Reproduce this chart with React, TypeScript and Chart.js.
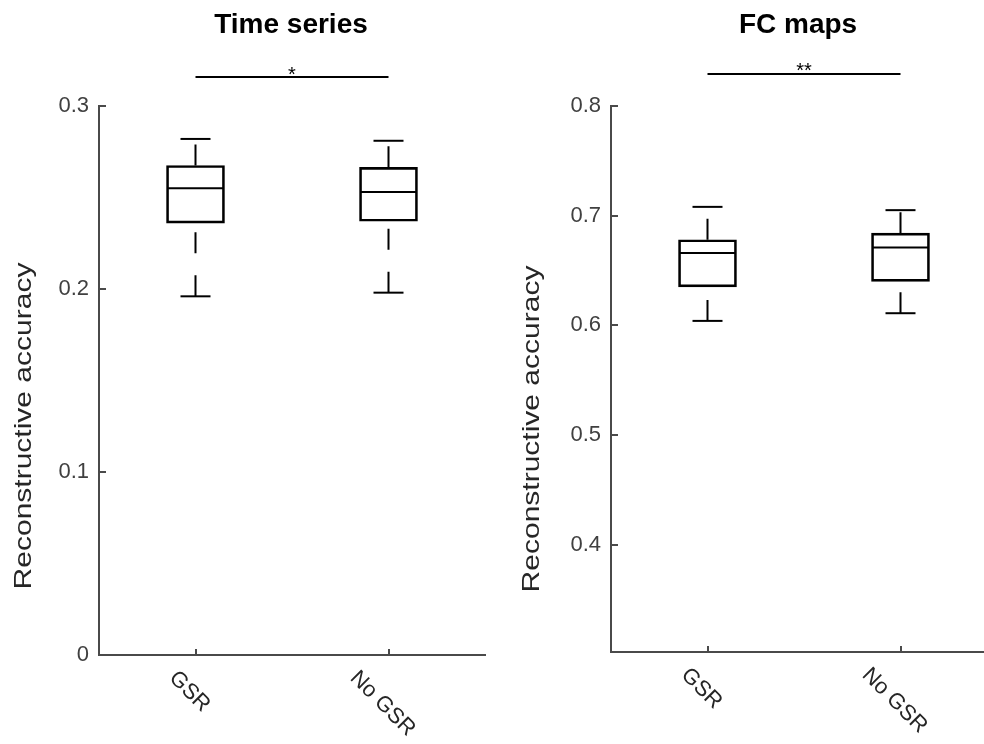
import React, { useEffect, useRef } from 'react';
import { Chart, registerables } from 'chart.js';

Chart.register(...registerables);

// ---------- data ----------
const categories = ['GSR', 'No GSR'];

// Panel 1: Time series
const tsLower = [0.196, 0.198];
const tsQ1 = [0.236, 0.237];
const tsMedian = [0.255, 0.253];
const tsQ3 = [0.2675, 0.2665];
const tsUpper = [0.282, 0.281];
const tsYTicks = [0, 0.1, 0.2, 0.3];
const tsYRange = [0, 0.3];
const tsSig = '*';

// Panel 2: FC maps
const fcLower = [0.604, 0.611];
const fcQ1 = [0.635, 0.64];
const fcMedian = [0.666, 0.671];
const fcQ3 = [0.678, 0.684];
const fcUpper = [0.708, 0.705];
const fcYTicks = [0.4, 0.5, 0.6, 0.7, 0.8];
const fcYRange = [0.302, 0.8];
const fcSig = '**';

const yAxisLabel = 'Reconstructive accuracy';

// ---------- styles ----------
const FONT = '"Liberation Sans", Arial, Helvetica, sans-serif';
const AXIS = '#4a4a4a';
const TICK_TEXT = '#404040';
const LABEL_TEXT = '#262626';

type PanelSpec = {
  title: string;
  sig: string;
  lower: number[];
  q1: number[];
  median: number[];
  q3: number[];
  upper: number[];
  yTicks: number[];
  yRange: number[];
  width: number;
  yWidth: number;
  xHeight: number;
  padRight: number;
  titleX: number;
  sigOffset: number;
  starLift: number;
  yLabelX: number;
  yLabelY: number;
};

const decorPlugin = {
  id: 'panelDecor',
  afterDraw(chart: any, _args: any, opts: any) {
    const { ctx, chartArea, scales } = chart;
    const xs = scales.x;
    const ys = scales.y;
    ctx.save();
    // inward tick marks
    ctx.strokeStyle = AXIS;
    ctx.lineWidth = 2;
    ctx.lineCap = 'butt';
    ys.ticks.forEach((t: any) => {
      const y = Math.round(ys.getPixelForValue(t.value));
      ctx.beginPath();
      ctx.moveTo(chartArea.left, y);
      ctx.lineTo(chartArea.left + 7, y);
      ctx.stroke();
    });
    categories.forEach((_c, i) => {
      const x = Math.round(xs.getPixelForValue(i));
      ctx.beginPath();
      ctx.moveTo(x, chartArea.bottom);
      ctx.lineTo(x, chartArea.bottom - 6);
      ctx.stroke();
    });

    // rotated category labels
    ctx.fillStyle = LABEL_TEXT;
    ctx.font = `22px ${FONT}`;
    categories.forEach((c, i) => {
      const x = xs.getPixelForValue(i);
      const w = ctx.measureText(c).width;
      const extent = (w + 22 * 0.75) * Math.SQRT1_2;
      ctx.save();
      ctx.translate(x - 6, chartArea.bottom + 14 + extent / 2);
      ctx.rotate(Math.PI / 4);
      ctx.textAlign = 'center';
      ctx.textBaseline = 'middle';
      ctx.fillText(c, 0, 0);
      ctx.restore();
    });

    // y axis label
    ctx.save();
    ctx.font = `24px ${FONT}`;
    ctx.fillStyle = LABEL_TEXT;
    ctx.translate(opts.yLabelX, opts.yLabelY);
    ctx.rotate(-Math.PI / 2);
    ctx.scale(1.25, 1);
    ctx.textAlign = 'center';
    ctx.textBaseline = 'middle';
    ctx.fillText(opts.yLabel, 0, 0);
    ctx.restore();

    // title
    ctx.fillStyle = '#000';
    ctx.font = `bold 28px ${FONT}`;
    ctx.textAlign = 'center';
    ctx.textBaseline = 'alphabetic';
    ctx.fillText(opts.title, opts.titleX, 33);

    // significance bar
    const x0 = xs.getPixelForValue(0);
    const x1 = xs.getPixelForValue(1);
    const sy = Math.round(chartArea.top - opts.sigOffset);
    ctx.strokeStyle = '#000';
    ctx.lineWidth = 2;
    ctx.beginPath();
    ctx.moveTo(x0, sy);
    ctx.lineTo(x1, sy);
    ctx.stroke();
    ctx.font = `20px ${FONT}`;
    ctx.fillText(opts.sig, (x0 + x1) / 2, sy - opts.starLift + 0.57 * 20);
    ctx.restore();
  },
};

function buildConfig(p: PanelSpec): any {
  const whiskers: any[] = [];
  const caps: any[] = [];
  const medians: any[] = [];
  categories.forEach((c, i) => {
    whiskers.push(
      { x: c, y: p.lower[i] },
      { x: c, y: p.q1[i] },
      { x: c, y: null },
      { x: c, y: p.q3[i] },
      { x: c, y: p.upper[i] },
      { x: c, y: null }
    );
    caps.push({ x: c, y: p.upper[i] }, { x: c, y: p.lower[i] });
    medians.push({ x: c, y: p.median[i] });
  });

  return {
    type: 'bar',
    data: {
      labels: categories,
      datasets: [
        {
          type: 'line',
          data: medians,
          showLine: false,
          pointStyle: 'line',
          pointRadius: 28,
          pointBorderWidth: 2,
          pointBorderColor: '#000',
          pointBackgroundColor: '#000',
        },
        {
          type: 'line',
          data: caps,
          showLine: false,
          pointStyle: 'line',
          pointRadius: 15,
          pointBorderWidth: 2,
          pointBorderColor: '#000',
          pointBackgroundColor: '#000',
        },
        {
          type: 'line',
          data: whiskers,
          borderColor: '#000',
          borderWidth: 2,
          borderDash: [21, 22],
          borderCapStyle: 'butt',
          pointRadius: 0,
          spanGaps: false,
          fill: false,
          tension: 0,
        },
        {
          type: 'bar',
          data: categories.map((_c, i) => [p.q1[i], p.q3[i]]),
          backgroundColor: 'rgba(0,0,0,0)',
          borderColor: '#000',
          borderWidth: 2,
          borderSkipped: false,
          barThickness: 58,
        },
      ],
    },
    options: {
      responsive: false,
      animation: false,
      events: [],
      layout: { autoPadding: false, padding: { top: 106, right: p.padRight, left: 0, bottom: 0 } },
      plugins: {
        legend: { display: false },
        tooltip: { enabled: false },
        panelDecor: {
          title: p.title,
          sig: p.sig,
          titleX: p.titleX,
          sigOffset: p.sigOffset,
          starLift: p.starLift,
          yLabel: yAxisLabel,
          yLabelX: p.yLabelX,
          yLabelY: p.yLabelY,
        },
      },
      scales: {
        x: {
          type: 'category',
          offset: true,
          grid: { display: false, drawTicks: false },
          border: { display: true, color: AXIS, width: 2 },
          ticks: { display: false },
          afterFit: (s: any) => {
            s.height = p.xHeight;
          },
        },
        y: {
          type: 'linear',
          min: p.yRange[0],
          max: p.yRange[1],
          grid: { display: false, drawTicks: false },
          border: { display: true, color: AXIS, width: 2 },
          ticks: {
            color: TICK_TEXT,
            font: { size: 22, family: FONT },
            padding: 10,
            callback: (v: number) => (v === 0 ? '0' : Number(v).toFixed(1)),
          },
          afterBuildTicks: (s: any) => {
            s.ticks = p.yTicks.map((v) => ({ value: v }));
          },
          afterFit: (s: any) => {
            s.width = p.yWidth;
          },
        },
      },
    },
    plugins: [decorPlugin],
  };
}

const leftPanel: PanelSpec = {
  title: 'Time series',
  sig: tsSig,
  lower: tsLower,
  q1: tsQ1,
  median: tsMedian,
  q3: tsQ3,
  upper: tsUpper,
  yTicks: tsYTicks,
  yRange: tsYRange,
  width: 492,
  yWidth: 99,
  xHeight: 89,
  padRight: 7,
  titleX: 291,
  sigOffset: 29,
  starLift: 7.5,
  yLabelX: 24,
  yLabelY: 426,
};

const rightPanel: PanelSpec = {
  title: 'FC maps',
  sig: fcSig,
  lower: fcLower,
  q1: fcQ1,
  median: fcMedian,
  q3: fcQ3,
  upper: fcUpper,
  yTicks: fcYTicks,
  yRange: fcYRange,
  width: 510,
  yWidth: 119,
  xHeight: 92,
  padRight: 5,
  titleX: 306,
  sigOffset: 32,
  starLift: 8,
  yLabelX: 40,
  yLabelY: 429,
};

function Panel({ spec, left }: { spec: PanelSpec; left: number }) {
  const ref = useRef<HTMLCanvasElement | null>(null);
  useEffect(() => {
    if (!ref.current) return;
    const chart = new Chart(ref.current, buildConfig(spec));
    return () => chart.destroy();
  }, [spec]);
  return (
    <div style={{ position: 'absolute', left, top: 0, width: spec.width, height: 744 }}>
      <canvas ref={ref} width={spec.width} height={744} style={{ display: 'block' }} />
    </div>
  );
}

export default function App() {
  return (
    <div
      style={{
        position: 'fixed',
        left: 0,
        top: 0,
        width: 984,
        height: 744,
        overflow: 'hidden',
        background: '#ffffff',
      }}
    >
      <Panel spec={leftPanel} left={0} />
      <Panel spec={rightPanel} left={492} />
    </div>
  );
}
